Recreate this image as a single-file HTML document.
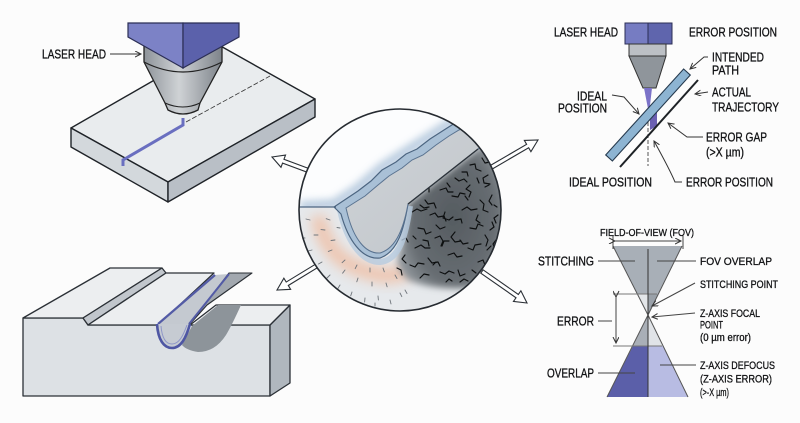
<!DOCTYPE html>
<html><head><meta charset="utf-8"><style>
html,body{margin:0;padding:0;background:#fcfcfc;}
svg{display:block;}
text{font-family:"Liberation Sans",Arial,sans-serif;fill:#111214;stroke:#111214;stroke-width:0.3;}
</style></head><body>
<svg width="800" height="423" viewBox="0 0 800 423" xmlns="http://www.w3.org/2000/svg">
<defs>
<clipPath id="cc"><circle cx="400" cy="210" r="101"/></clipPath>
<filter id="b3" x="-20%" y="-20%" width="140%" height="140%"><feGaussianBlur stdDeviation="3.5"/></filter>
<filter id="b4" x="-30%" y="-30%" width="160%" height="160%"><feGaussianBlur stdDeviation="4"/></filter>
<filter id="b6" x="-30%" y="-30%" width="160%" height="160%"><feGaussianBlur stdDeviation="6"/></filter>
<linearGradient id="noz" x1="0" y1="0" x2="1" y2="0">
<stop offset="0" stop-color="#8d9399"/><stop offset="0.45" stop-color="#cfd2d5"/><stop offset="1" stop-color="#7d838a"/></linearGradient>
<radialGradient id="dark" cx="0.5" cy="0.5" r="0.6">
<stop offset="0" stop-color="#555b60"/><stop offset="0.65" stop-color="#676d72"/><stop offset="1" stop-color="#a0a6ab"/></radialGradient>
<linearGradient id="band" x1="0" y1="0" x2="1" y2="1">
<stop offset="0" stop-color="#d0d4d8"/><stop offset="1" stop-color="#bfc4c9"/></linearGradient>
<marker id="ah" markerWidth="8" markerHeight="8" refX="6" refY="3" orient="auto" markerUnits="userSpaceOnUse">
<path d="M0,0 L6,3 L0,6" fill="none" stroke="#333" stroke-width="1"/></marker>
<marker id="ah2" markerWidth="8" markerHeight="8" refX="0" refY="3" orient="auto-start-reverse" markerUnits="userSpaceOnUse">
<path d="M6,0 L0,3 L6,6" fill="none" stroke="#333" stroke-width="1"/></marker>
</defs>

<!-- ============ TOP-LEFT PLATE ============ -->
<g stroke="#1f2328" stroke-width="1.4" stroke-linejoin="round">
<polygon points="71,128 217,44 315,99 168,182" fill="#e9ecee"/>
<polygon points="71,128 168,182 168,202 71,147" fill="#d3d8dc"/>
<polygon points="168,182 315,99 315,117 168,202" fill="#b9bfc6"/>
</g>
<polyline points="123,166 123,160 183,125 183,118" fill="none" stroke="#6a6fc0" stroke-width="3"/>
<line x1="186" y1="122" x2="270" y2="76" stroke="#333" stroke-width="0.8" stroke-dasharray="5,2"/>
<path d="M144,45 L144,62 L165,103 L168,110 Q183,118 198,110 L200,103 L222,62 L222,45 Z" fill="url(#noz)" stroke="#222" stroke-width="1.3"/>
<path d="M144,62 Q183,82 222,62" fill="none" stroke="#222" stroke-width="1.2"/>
<path d="M165,103 Q183,111 200,103" fill="none" stroke="#222" stroke-width="1.1"/>
<polygon points="128,23 183,23 183,68 128,37" fill="#7c82c6" stroke="#2b2e55" stroke-width="1.2"/>
<polygon points="183,23 239,23 239,37 183,68" fill="#5b61ab" stroke="#2b2e55" stroke-width="1.2"/>
<text x="42" y="58.5" font-size="13" textLength="64" lengthAdjust="spacingAndGlyphs">LASER HEAD</text>
<line x1="110" y1="54" x2="141" y2="54" stroke="#333" stroke-width="1" marker-end="url(#ah)"/>

<!-- ============ LOWER-LEFT BLOCK ============ -->
<g stroke="#2b3036" stroke-width="1.3" stroke-linejoin="round">
<polygon points="23,318 83,318 88,325 270,325 270,396 23,396" fill="#dde1e5"/>
<polygon points="270,325 290,305 290,383 270,396" fill="#b0b7be"/>
<polygon points="23,318 110,268 162,268 83,318" fill="#eceef0"/>
<polygon points="83,318 162,268 166,273 88,325" fill="#c1c6cc"/>
<polygon points="88,325 166,273 214,273 158,325" fill="#eceef0"/>
<polygon points="190,325 216,305 290,305 270,325" fill="#eceef0"/>
</g>
<path d="M218,305 L241,305 Q232,325 226,335 Q215,352 198,352 Q186,350 182,345 L192,326 Z" fill="#8d949a"/>
<polygon points="158,325 214,275 229,274 190,324" fill="#c4c9d0"/>
<polygon points="229,273 252,273 207,305 190,324" fill="#a2a8af" stroke="#2b3036" stroke-width="1.1" stroke-linejoin="round"/>
<line x1="229" y1="274" x2="189" y2="324" stroke="#535ba6" stroke-width="2"/>
<line x1="158" y1="324" x2="215" y2="275" stroke="#535ba6" stroke-width="2.2"/>
<path d="M157,324 C158,340 164,348 172,348 C181,348 186,338 190,324" fill="#c6cbd2" stroke="#4e56a3" stroke-width="2.6"/>
<path d="M161,326 C162,338 166,344 172,344 C179,344 183,336 187,325" fill="none" stroke="#8e96c8" stroke-width="1"/>

<!-- ============ HOLLOW ARROWS ============ -->
<g fill="#ffffff" stroke="#2a2f35" stroke-width="1.1" stroke-linejoin="miter">
<polygon points="312.10,169.78 283.96,159.31 285.53,155.09 272,157 280.99,167.29 282.56,163.07 310.70,173.54"/>
<polygon points="487.17,171.97 528.64,147.78 530.91,151.67 538,140 524.35,140.43 526.62,144.32 485.15,168.51"/>
<polygon points="316.96,263.29 286.21,282.05 283.87,278.21 277,290 290.63,289.31 288.29,285.47 319.04,266.71"/>
<polygon points="480.80,273.14 516.02,297.76 513.45,301.44 527,303 520.89,290.80 518.32,294.48 483.10,269.86"/>
</g>

<!-- ============ CIRCLE ============ -->
<g clip-path="url(#cc)">
<circle cx="400" cy="210" r="101" fill="#fcfdfe"/>
<path d="M300,206 L334,204 L358,188 L382,167 L405,152 L444,127 L475,108" fill="none" stroke="#9db7d2" stroke-width="9" opacity="0.75" filter="url(#b4)"/>
<polygon points="290,207 337,207 408,204 478,149 515,130 515,320 290,320" fill="#e6e9ec"/>
<path d="M318,216 Q326,262 372,273 Q396,280 410,268" fill="none" stroke="#f3b28f" stroke-width="15" opacity="0.65" filter="url(#b6)"/>
<path d="M408,204 L478,149 L508,135 L508,300 L470,288 Q432,290 408,280 Q394,268 399,254 Q405,236 408,204 Z" fill="url(#dark)" filter="url(#b3)"/>
<g fill="none" stroke="#0d0f10" stroke-width="1.15" stroke-linecap="round" stroke-linejoin="round">
<path d="M412,212 l5,-3 l4,2 l6,-2"/><path d="M425,200 l3,4 l6,-1 l2,5"/><path d="M440,190 l6,-2 l2,4 l5,0"/>
<path d="M455,178 l4,3 l5,-2 l3,3"/><path d="M470,165 l5,-1 l1,5 l5,2"/><path d="M482,158 l3,5 l5,-1"/>
<path d="M488,175 l-5,3 l1,5 l6,1"/><path d="M470,185 l-4,4 l5,3 l-2,5"/><path d="M452,196 l6,1 l2,-4 l5,1"/>
<path d="M430,215 l5,-2 l3,4 l6,-1 l2,5"/><path d="M418,228 l6,1 l2,5 l5,-2"/><path d="M445,212 l-2,6 l6,2 l4,-3"/>
<path d="M462,210 l5,-3 l4,3 l6,-1"/><path d="M480,200 l4,4 l-1,6 l5,2"/><path d="M492,195 l-3,6 l3,4"/>
<path d="M470,228 l6,1 l2,-5 l5,2"/><path d="M455,232 l-4,5 l4,5 l6,-1"/><path d="M435,238 l5,-2 l3,5 l-2,5"/>
<path d="M415,248 l6,-3 l4,3 l5,0"/><path d="M410,265 l5,2 l3,-4 l6,1"/><path d="M428,258 l4,5 l6,-1 l2,4"/>
<path d="M448,255 l6,-2 l3,4 l5,-1"/><path d="M468,248 l5,2 l2,-5 l6,-1"/><path d="M485,235 l3,5 l-2,6"/>
<path d="M478,262 l5,-2 l2,5"/><path d="M440,272 l5,2 l4,-3 l5,2"/><path d="M420,278 l4,-4 l5,1"/>
<path d="M458,270 l2,6 l5,-2"/><path d="M498,215 l-4,3 l2,5"/><path d="M402,240 l4,-2 l2,4"/>
<path d="M405,255 l-3,4 l4,4"/><path d="M397,268 l4,2 l1,5"/><path d="M460,282 l4,-3 l4,2"/>
<path d="M487,250 l4,-4"/><path d="M436,225 l4,4 l5,-2"/><path d="M465,196 l3,4"/><path d="M492,222 l2,5 l-4,3"/>
<path d="M420,205 l4,3 l5,-1"/><path d="M447,183 l3,4"/><path d="M462,172 l5,0 l1,4"/><path d="M477,178 l2,5"/>
<path d="M455,220 l6,-1 l1,4"/><path d="M423,240 l5,1 l1,5"/><path d="M442,246 l2,-5 l5,0"/><path d="M460,240 l3,4 l5,-1"/>
<path d="M478,215 l-2,5 l4,3"/><path d="M496,240 l-3,4 l2,5"/><path d="M472,270 l4,3"/><path d="M433,265 l3,-3"/>
<path d="M413,236 l3,3"/><path d="M446,282 l3,-3 l3,2"/><path d="M488,268 l3,-3"/><path d="M485,187 l4,-2"/>
<path d="M429,187 l0,5"/><path d="M494,205 l3,2"/>
</g>
<g stroke="#6f757b" stroke-width="0.9" stroke-linecap="round">
<path d="M310,220 l-4,-1 M318,235 l-4,0 M312,250 l-4,1 M322,262 l-3.5,2 M330,275 l-3,3 M315,270 l-3.4,2 M340,285 l-2,3.4 M352,292 l-1.3,3.8 M365,298 l-0.4,4 M378,296 l0.4,4 M390,300 l1,3.9 M400,293 l1.8,3.6 M345,270 l-2.4,3.2 M358,278 l-1.2,3.8 M372,282 l0,4 M386,283 l1.1,3.8 M332,250 l-3.7,1.4 M325,230 l-4,-0.4 M335,240 l-4,0.5 M305,238 l-4,0 M330,220 l-3.8,-1.3 M345,260 l-2.9,2.7 M357,265 l-1.8,3.6 M370,268 l0,4 M383,268 l1.3,3.8 M395,275 l2,3.5 M320,290 l-2.7,2.9 M335,298 l-2,3.4 M350,303 l-1.2,3.8 M375,303 l0,3 M405,290 l2,3.5 M340,228 l-3,-0.5 M308,260 l-3.5,1.5"/>
</g>
<path d="M340,210 C346,238 360,262 380,262 C400,260 406,234 410,206" fill="none" stroke="#b7cbde" stroke-width="6" opacity="0.8"/>
<path d="M334,207 L358,191 L371,181 L382,170 L396,162 L406,154 L417,149 L430,139 L444,130 L455,123 L520,90 L520,118 L478,149 L408,204 C404,228 398,252 380,258 C362,260 348,240 341,214 Z" fill="#a9c0d6" stroke="#4c6581" stroke-width="1.2"/>
<path d="M346,208 L365,196 L378,185 L389,176 L402,168 L412,160 L423,155 L436,145 L449,136 L459,130 L520,100 L520,118 L478,149 L408,204 C404,226 397,248 380,253 C365,254 354,238 348,216 Z" fill="url(#band)" stroke="#5a7390" stroke-width="1"/>
<line x1="478" y1="149" x2="408" y2="204" stroke="#2d3339" stroke-width="1.3"/>
<line x1="296" y1="207" x2="336" y2="207" stroke="#4c6581" stroke-width="1.2"/>
</g>
<circle cx="400" cy="210" r="101" fill="none" stroke="#262b31" stroke-width="1.6"/>

<!-- ============ TOP-RIGHT DIAGRAM ============ -->
<rect x="625" y="23" width="23" height="21" fill="#767cc2" stroke="#2b2e55" stroke-width="1"/>
<rect x="648" y="23" width="24" height="21" fill="#5f65ad" stroke="#2b2e55" stroke-width="1"/>
<rect x="629" y="44" width="37" height="12" fill="#bcc0c5" stroke="#333" stroke-width="1"/>
<polygon points="629,56 666,56 656,88 643,88" fill="#8f959b" stroke="#333" stroke-width="1"/>
<polygon points="644,88 652,88 649,114" fill="#7b72c8"/>
<polygon points="650,112 657,108 657,126 650,130" fill="#6b60b2"/>
<line x1="648" y1="116" x2="648" y2="166" stroke="#555" stroke-width="1" stroke-dasharray="4,2"/>
<g transform="translate(648,115) rotate(-47.8)">
<rect x="-58" y="-4.5" width="116" height="9" fill="#8db4d2" stroke="#25394d" stroke-width="1.1"/>
</g>
<line x1="620" y1="167" x2="698" y2="80" stroke="#1e2226" stroke-width="2"/>
<g font-size="12.5">
<text x="554" y="36.5" textLength="64" lengthAdjust="spacingAndGlyphs">LASER HEAD</text>
<text x="689" y="36.5" textLength="88" lengthAdjust="spacingAndGlyphs">ERROR POSITION</text>
<text x="712" y="61.5" textLength="52" lengthAdjust="spacingAndGlyphs">INTENDED</text>
<text x="712" y="74.5" textLength="27" lengthAdjust="spacingAndGlyphs">PATH</text>
<text x="712" y="96.5" textLength="39" lengthAdjust="spacingAndGlyphs">ACTUAL</text>
<text x="712" y="111.5" textLength="67" lengthAdjust="spacingAndGlyphs">TRAJECTORY</text>
<text x="706" y="141.5" textLength="61" lengthAdjust="spacingAndGlyphs">ERROR GAP</text>
<text x="706" y="156.5" textLength="38" lengthAdjust="spacingAndGlyphs">(&gt;X µm)</text>
<text x="577" y="100.5" textLength="30" lengthAdjust="spacingAndGlyphs">IDEAL</text>
<text x="558" y="112.5" textLength="49" lengthAdjust="spacingAndGlyphs">POSITION</text>
<text x="569" y="186.5" textLength="83" lengthAdjust="spacingAndGlyphs">IDEAL POSITION</text>
<text x="686" y="186.5" textLength="87" lengthAdjust="spacingAndGlyphs">ERROR POSITION</text>
</g>
<g fill="none" stroke="#333" stroke-width="1">
<polyline points="708,57 704,57 690,69" marker-end="url(#ah)"/>
<polyline points="708,92 695,94" marker-end="url(#ah)"/>
<polyline points="703,137 687,137 668,123" marker-end="url(#ah)"/>
<path d="M682,182 L675,182 Q670,170 654,141" marker-end="url(#ah)"/>
<path d="M612,95 L624,97 L639,114" marker-end="url(#ah)"/>
</g>

<!-- ============ BOTTOM-RIGHT HOURGLASS ============ -->
<polygon points="613,246 682,246 658,294 637,294" fill="#a8afb7"/>
<polygon points="637,294 648,294 648,315" fill="#e3e6e9"/>
<polygon points="648,294 658,294 648,315" fill="#9aa1a9"/>
<polygon points="648,315 648,346 633,346" fill="#a9afb7"/>
<polygon points="648,315 663,346 648,346" fill="#e0e3e7"/>
<polygon points="633,346 648,346 648,397 607,397" fill="#5b5fa9"/>
<polygon points="648,346 663,346 688,397 648,397" fill="#b8bce3"/>
<g stroke="#555" stroke-width="1" fill="none">
<line x1="613" y1="246" x2="648" y2="315"/><line x1="682" y1="246" x2="648" y2="315"/>
<line x1="648" y1="315" x2="607" y2="397"/><line x1="648" y1="315" x2="688" y2="397"/>
<line x1="613" y1="294" x2="657" y2="294" stroke="#777"/>
<line x1="613" y1="346" x2="662" y2="346" stroke="#777"/>
</g>
<line x1="648" y1="249" x2="648" y2="397" stroke="#333" stroke-width="1"/>
<g stroke="#444" stroke-width="1" fill="none">
<line x1="613" y1="236" x2="613" y2="249"/><line x1="683" y1="236" x2="683" y2="249"/>
<line x1="615" y1="241" x2="681" y2="241" marker-start="url(#ah2)" marker-end="url(#ah)"/>
<line x1="616" y1="297" x2="616" y2="343" marker-start="url(#ah2)" marker-end="url(#ah)"/>
<line x1="598" y1="261" x2="635" y2="261"/>
<line x1="657" y1="261" x2="696" y2="261"/>
<line x1="695" y1="283" x2="652" y2="306" marker-end="url(#ah)"/>
<line x1="695" y1="313" x2="652" y2="317" marker-end="url(#ah)"/>
<line x1="598" y1="321" x2="612" y2="321"/>
<line x1="598" y1="373" x2="635" y2="373"/>
<line x1="660" y1="365" x2="696" y2="365"/>
</g>
<text x="600" y="236" font-size="10.5" textLength="94" lengthAdjust="spacingAndGlyphs">FIELD-OF-VIEW (FOV)</text>
<g font-size="12.5">
<text x="538" y="265.5" textLength="56" lengthAdjust="spacingAndGlyphs">STITCHING</text>
<text x="557" y="325.5" textLength="37" lengthAdjust="spacingAndGlyphs">ERROR</text>
<text x="547" y="377.5" textLength="47" lengthAdjust="spacingAndGlyphs">OVERLAP</text>
</g>
<g font-size="11">
<text x="700" y="265" textLength="72" lengthAdjust="spacingAndGlyphs">FOV OVERLAP</text>
<text x="700" y="288" textLength="78" lengthAdjust="spacingAndGlyphs">STITCHING POINT</text>
<text x="700" y="317" textLength="60" lengthAdjust="spacingAndGlyphs">Z-AXIS FOCAL</text>
<text x="700" y="328.5" textLength="23" lengthAdjust="spacingAndGlyphs">POINT</text>
<text x="700" y="341" textLength="51" lengthAdjust="spacingAndGlyphs">(0 µm error)</text>
<text x="700" y="369" textLength="75" lengthAdjust="spacingAndGlyphs">Z-AXIS DEFOCUS</text>
<text x="700" y="382.5" textLength="72" lengthAdjust="spacingAndGlyphs">(Z-AXIS ERROR)</text>
<text x="700" y="396" textLength="29" lengthAdjust="spacingAndGlyphs">(&gt;-X µm)</text>
</g>
</svg>
</body></html>
